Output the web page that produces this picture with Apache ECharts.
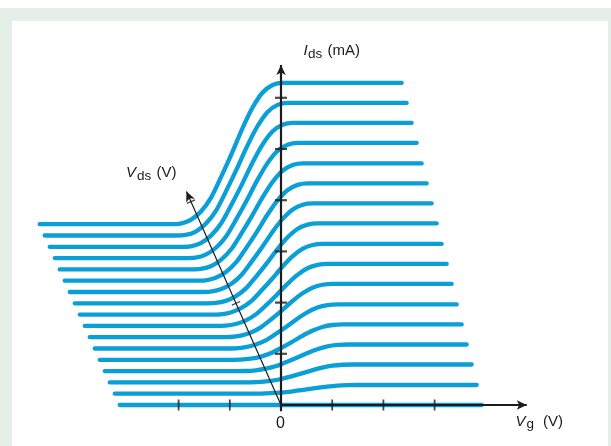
<!DOCTYPE html>
<html><head><meta charset="utf-8">
<script src="https://cdn.jsdelivr.net/npm/echarts@6/dist/echarts.min.js"></script>
<style>html,body{margin:0;padding:0;background:#fff}#c{width:611px;height:446px}</style>
</head><body><div id="c"></div>
<script>
// ---- data ----
const vdsValues = [0,0.5,1,1.5,2,2.5,3,3.5,4,4.5,5,5.5,6,6.5,7,7.5,8];            // V, one curve each
const idsSat    = [0,0.17,0.35,0.52,0.69,0.86,1.04,1.21,1.38,1.56,1.73,1.90,2.07,2.25,2.42,2.59,2.76]; // mA step of each curve
const vgSamples = [-3.15,-2,-1,-0.6,-0.4,-0.2,0,0.2,0.4,0.6,0.8,1.0,1.2,1.4,1.6,2.5,3.92]; // V
const riseShape = [0,0,0,0,0.004,0.03,0.09,0.19,0.34,0.50,0.67,0.82,0.93,0.985,1,1,1];   // fraction of step
const vgTicks  = [-2,-1,1,2,3];
const idsTicks = [1,2,3,4,5,6];
const vdsTicks = [4.5,9];
const originLabel = '0';

// oblique projection of the Vds axis into the (Vg, Ids) plane
const VDS_DX = -0.1954, VDS_DY = 0.4414;
const VG_AXIS_END = 4.8, IDS_AXIS_START = -0.12, IDS_AXIS_END = 6.64, VDS_AXIS_END = 9.45;

const BLUE = '#0a9fd6', INK = '#1d1b1c';
const FONT = '"Liberation Sans", Arial, Helvetica, sans-serif';
const proj = (vg, ids, vds) => [vg + vds * VDS_DX, ids + vds * VDS_DY];
const diagAngle = Math.atan2(-VDS_DX * 51.2, VDS_DY * 51.2) * 180 / Math.PI;

const series = [];
vdsValues.forEach((v, k) => {
  series.push({
    type: 'line', silent: true, animation: false, z: 2,
    data: vgSamples.map((g, i) => proj(g, idsSat[k] * riseShape[i], v)),
    smooth: 0.3, symbol: 'none',
    lineStyle: { color: BLUE, width: 4.3, cap: 'round', join: 'round' }
  });
});
function axisLine(pts, rot, w) {
  return {
    type: 'line', silent: true, animation: false, z: 5,
    data: [{ value: pts[0], symbol: 'none' },
           { value: pts[1], symbol: 'arrow', symbolSize: [7, 10], symbolRotate: rot,
             itemStyle: { color: INK } }],
    showSymbol: true, symbol: 'none',
    lineStyle: { color: INK, width: w }
  };
}
series.push(axisLine([[0, IDS_AXIS_START], [0, IDS_AXIS_END]], 0, 2.2));
series.push(axisLine([[0, 0], [VG_AXIS_END, 0]], -90, 2.2));
series.push(axisLine([[0, 0], proj(0, 0, VDS_AXIS_END)], diagAngle, 1.2));
series.push({ type: 'scatter', silent: true, animation: false, z: 6,
  data: idsTicks.map(t => [0, t]), symbol: 'rect', symbolSize: [12, 2.2], itemStyle: { color: INK } });
series.push({ type: 'scatter', silent: true, animation: false, z: 6,
  data: vgTicks.map(t => [t, 0]), symbol: 'rect', symbolSize: [1.8, 11], itemStyle: { color: INK } });
series.push({ type: 'scatter', silent: true, animation: false, z: 6,
  data: vdsTicks.map(t => proj(0, 0, t)), symbol: 'rect', symbolSize: [9, 1.3], symbolRotate: diagAngle,
  itemStyle: { color: INK } });

function txt(s, x, yMid, size, italic) {
  return { type: 'text', z: 10, style: { text: s, x: x, y: yMid,
    font: (italic ? 'italic ' : '') + size + 'px ' + FONT, fill: INK,
    textAlign: 'left', textVerticalAlign: 'middle', align: 'left', verticalAlign: 'middle' } };
}
const chart = echarts.init(document.getElementById('c'), null, { renderer: 'canvas' });
chart.setOption({
  animation: false,
  backgroundColor: '#ffffff',
  grid: { left: 25, right: 22.8, top: 21, bottom: 15.4, containLabel: false },
  xAxis: { type: 'value', min: -5, max: 6, show: false },
  yAxis: { type: 'value', min: -0.5, max: 7.5, show: false },
  graphic: [
    { type: 'rect', z: -10, shape: { x: 0, y: 8, width: 611, height: 438 }, style: { fill: '#e3efe7' } },
    { type: 'rect', z: -9, shape: { x: 12, y: 21, width: 596, height: 425 }, style: { fill: '#ffffff' } },
    txt('I', 303.5, 50.8, 15, true), txt('ds', 308, 53.8, 13.5, false), txt('(mA)', 327.5, 50.8, 15, false),
    txt('V', 126, 173.1, 15, true), txt('ds', 137, 175.8, 13.5, false), txt('(V)', 156.5, 173.1, 15, false),
    txt('V', 515.5, 421.5, 15, true), txt('g', 526.5, 424.3, 13.5, false), txt('(V)', 543, 421.5, 15, false),
    { type: 'text', z: 10, style: { text: originLabel, x: 280.5, y: 423.5, font: '16px ' + FONT, fill: INK,
      textAlign: 'center', textVerticalAlign: 'middle', align: 'center', verticalAlign: 'middle' } }
  ],
  series: series
});
</script></body></html>
